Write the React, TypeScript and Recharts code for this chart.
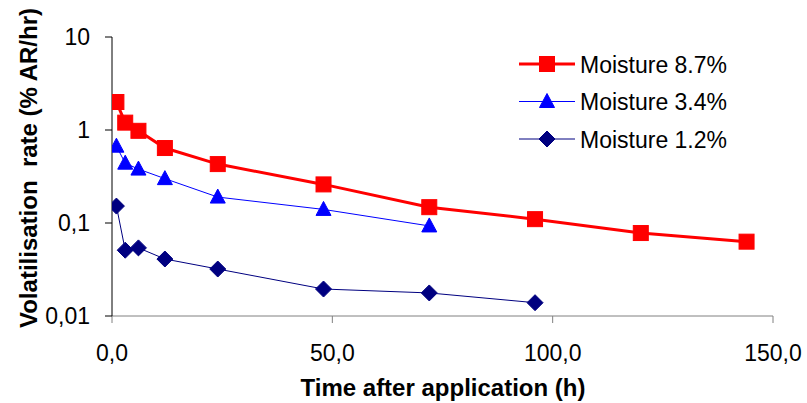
import React from 'react';
import { LineChart, Line, XAxis, YAxis, Label } from 'recharts';

// hours after application
const hoursHigh = [1, 3, 6, 12, 24, 48, 72, 96, 120, 144];
const hoursMid = [1, 3, 6, 12, 24, 48, 72];
const hoursLow = [1, 3, 6, 12, 24, 48, 72, 96];

// volatilisation rate (% AR/hr)
const rateHigh = [2.0, 1.2, 0.98, 0.64, 0.43, 0.26, 0.148, 0.11, 0.078, 0.063];
const rateMid = [0.67, 0.44, 0.38, 0.3, 0.19, 0.14, 0.093];
const rateLow = [0.152, 0.051, 0.054, 0.041, 0.032, 0.0195, 0.0177, 0.0139];

const xTicks = [0, 50, 100, 150];
const yTicks = [0.01, 0.1, 1, 10];

const FONT = '"Liberation Sans", Arial, sans-serif';

const toRows = (xs: number[], ys: number[]) => xs.map((t, i) => ({ t, v: ys[i] }));

const seriesList = [
  { name: 'Moisture 8.7%', data: toRows(hoursHigh, rateHigh), color: '#FF0000', width: 3, shape: 'square' },
  { name: 'Moisture 3.4%', data: toRows(hoursMid, rateMid), color: '#0000FF', width: 1, shape: 'triangle' },
  { name: 'Moisture 1.2%', data: toRows(hoursLow, rateLow), color: '#000080', width: 1, shape: 'diamond' },
];

const Marker = ({ shape, cx, cy, color }: any) => {
  if (cx == null || cy == null) return null;
  if (shape === 'square') {
    return <rect x={cx - 7.5} y={cy - 7.5} width={15} height={15} fill={color} stroke={color} />;
  }
  if (shape === 'triangle') {
    return <path d={`M${cx},${cy - 8} L${cx + 7.5},${cy + 6} L${cx - 7.5},${cy + 6} Z`} fill={color} stroke={color} />;
  }
  return <path d={`M${cx},${cy - 8} L${cx + 8},${cy} L${cx},${cy + 8} L${cx - 8},${cy} Z`} fill={color} stroke={color} />;
};

const fmtComma = (v: number, digits?: number) =>
  (digits != null ? v.toFixed(digits) : String(v)).replace('.', ',');

// legend drawn as overlay so it doesn't shrink the plot area
const LegendBox = () => (
  <svg width={270} height={120} style={{ position: 'absolute', left: 518, top: 48 }}>
    {seriesList.map((s, i) => {
      const y = 16 + i * 37.5;
      return (
        <g key={s.name}>
          <line x1={1} x2={57} y1={y} y2={y} stroke={s.color} strokeWidth={s.width} />
          <Marker shape={s.shape} cx={29} cy={y} color={s.color} />
          <text x={62} y={y + 8.5} fontSize={23} fontFamily={FONT} fill="#000">
            {s.name}
          </text>
        </g>
      );
    })}
  </svg>
);

export default function App() {
  return (
    <div style={{ position: 'absolute', left: 0, top: 0, width: 807, height: 403, background: '#fff' }}>
      <LineChart width={807} height={403} margin={{ top: 37, right: 34, left: 0, bottom: 0 }}>
        <XAxis
          type="number"
          dataKey="t"
          domain={[0, 150]}
          ticks={xTicks}
          allowDataOverflow
          height={87}
          tickSize={7}
          tickMargin={22}
          stroke="#808080"
          tick={{ fill: '#000', fontSize: 23, fontFamily: FONT }}
          tickFormatter={(v) => fmtComma(v, 1)}
        >
          <Label
            content={() => (
              <text x={443} y={396} textAnchor="middle" fontSize={24} fontWeight="bold" fontFamily={FONT} fill="#000">
                Time after application (h)
              </text>
            )}
          />
        </XAxis>
        <YAxis
          type="number"
          scale="log"
          domain={[0.01, 10]}
          ticks={yTicks}
          allowDataOverflow
          width={112}
          tickSize={7}
          tickMargin={15}
          stroke="#000"
          tick={{ fill: '#000', fontSize: 23, fontFamily: FONT }}
          tickFormatter={(v) => fmtComma(v)}
        >
          <Label
            content={() => (
              <text
                transform="translate(37,168) rotate(-90)"
                textAnchor="middle"
                fontSize={24}
                fontWeight="bold"
                fontFamily={FONT}
                fill="#000"
                style={{ whiteSpace: 'pre' }}
              >
                {'Volatilisation  rate (% AR/hr)'}
              </text>
            )}
          />
        </YAxis>
        {seriesList.map((s) => (
          <Line
            key={s.name}
            name={s.name}
            data={s.data}
            dataKey="v"
            stroke={s.color}
            strokeWidth={s.width}
            isAnimationActive={false}
            dot={(p: any) => <Marker key={`${s.name}-${p.index}`} shape={s.shape} cx={p.cx} cy={p.cy} color={s.color} />}
            activeDot={false}
          />
        ))}
      </LineChart>
      <LegendBox />
    </div>
  );
}
